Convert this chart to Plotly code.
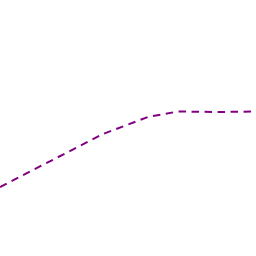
import plotly.graph_objects as go

x_vals = [0, 103, 148, 178, 218, 256]
y_vals = [69, 122, 139, 144.5, 144, 144.5]

fig = go.Figure()
fig.add_trace(go.Scatter(x=x_vals, y=y_vals, mode="lines",
                         line=dict(color="#800080", width=2, dash="7.5px,5.5px")))
fig.update_layout(width=256, height=256, margin=dict(l=0, r=0, t=0, b=0),
                  paper_bgcolor="white", plot_bgcolor="white", showlegend=False)
fig.update_xaxes(range=[0, 256], visible=False)
fig.update_yaxes(range=[0, 256], visible=False)
fig.write_html("out.html")
